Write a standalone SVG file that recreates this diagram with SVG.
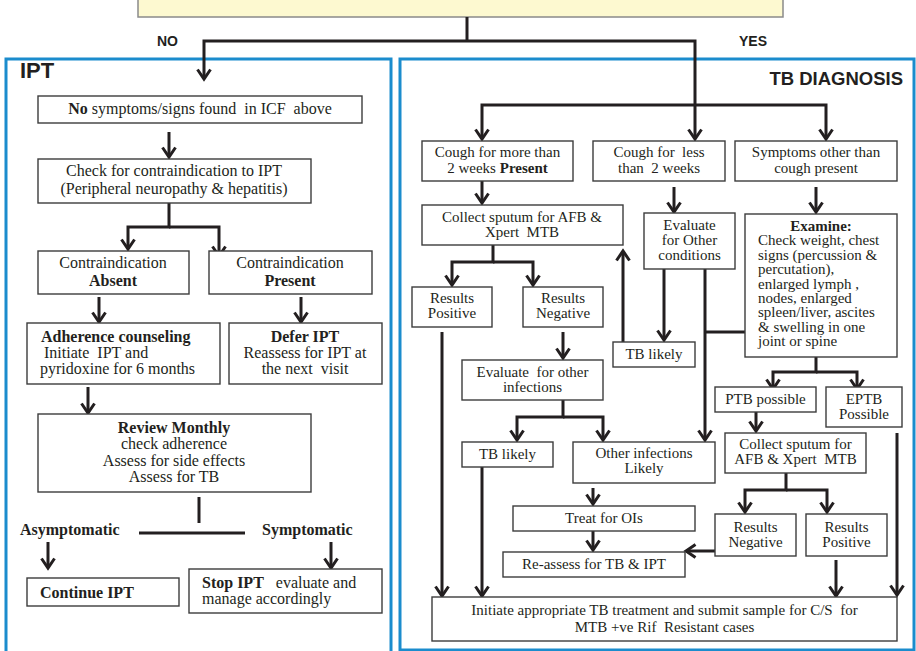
<svg xmlns="http://www.w3.org/2000/svg" width="916" height="651" viewBox="0 0 916 651">
<style>
.bg{fill:#ffffff}
.box{fill:#ffffff;stroke:#3c3c3c;stroke-width:1.4}
.panel{fill:none;stroke:#1b8ccd;stroke-width:3}
.t{font-family:"Liberation Serif","Times New Roman",serif;font-size:15px;fill:#231f20}
.tl{font-family:"Liberation Serif","Times New Roman",serif;font-size:16px;fill:#231f20}
.c{text-anchor:middle}
.b{font-weight:bold}
.h{font-family:"Liberation Sans",Arial,sans-serif;font-weight:bold;fill:#231f20}
.conn{fill:none;stroke:#231f20;stroke-width:3}
.a{marker-end:url(#arr)}
</style>
<defs>
<marker id="arr" viewBox="0 0 14 16" refX="11" refY="8" markerWidth="14" markerHeight="16" markerUnits="userSpaceOnUse" orient="auto">
<path d="M1.5,1.5 L11,8 L1.5,14.5" fill="none" stroke="#231f20" stroke-width="3" stroke-linejoin="miter"/>
</marker>
</defs>
<rect class="bg" x="0" y="0" width="916" height="651"/>

<g id="top-box"><rect x="138" y="-10" width="645" height="27" fill="#fdf9d0" stroke="#8a8a8a" stroke-width="1.5"/></g>

<g id="labels">
<text class="h" x="157" y="46" font-size="14">NO</text>
<text class="h" x="739" y="46" font-size="14">YES</text>
</g>

<g id="ipt-panel">
<rect class="panel" x="6" y="59" width="385" height="600"/>
<text class="h" x="20" y="78" font-size="22">IPT</text>
</g>
<g id="tb-panel">
<rect class="panel" x="400" y="59" width="514" height="591"/>
<text class="h" x="903" y="85" font-size="18.5" text-anchor="end">TB DIAGNOSIS</text>
</g>

<g id="connectors">
<path class="conn" d="M467,17 V41"/>
<path class="conn a" d="M467,41 H204 V79"/>
<path class="conn a" d="M467,41 H695 V139"/>
<path class="conn a" d="M695,105 H482 V139"/>
<path class="conn a" d="M695,105 H826 V139"/>
<path class="conn a" d="M169,132 V157"/>
<path class="conn a" d="M169,203 V227 H128 V249"/>
<path class="conn a" d="M169,227 H219 V256"/>
<path class="conn a" d="M99,297 V322"/>
<path class="conn a" d="M301,297 V322"/>
<path class="conn a" d="M88,387 V413"/>
<path class="conn" d="M199,497 V523"/>
<path class="conn" d="M139,533 H245"/>
<path class="conn a" d="M48,542 V568"/>
<path class="conn a" d="M331,542 V568"/>
<path class="conn a" d="M482,181 V203"/>
<path class="conn a" d="M674,187 V212"/>
<path class="conn a" d="M816,187 V212"/>
<path class="conn a" d="M493,245 V262 H452 V285"/>
<path class="conn a" d="M493,262 H533 V285"/>
<path class="conn a" d="M623,342 V251"/>
<path class="conn a" d="M664,269 V340"/>
<path class="conn a" d="M705,269 V440"/>
<path class="conn" d="M705,332 H745"/>
<path class="conn a" d="M442,332 V596"/>
<path class="conn a" d="M563,332 V358"/>
<path class="conn a" d="M563,400 V417 H517 V440"/>
<path class="conn a" d="M563,417 H603 V440"/>
<path class="conn a" d="M816,357 V372 H773 V389"/>
<path class="conn a" d="M816,372 H857 V389"/>
<path class="conn a" d="M756,412 V431"/>
<path class="conn a" d="M482,467 V596"/>
<path class="conn a" d="M593,488 V504"/>
<path class="conn a" d="M593,531 V550"/>
<path class="conn a" d="M786,473 V490 H745 V512"/>
<path class="conn a" d="M786,490 H827 V512"/>
<path class="conn a" d="M715,551 H686"/>
<path class="conn a" d="M836,560 V596"/>
<path class="conn a" d="M897,433 V595"/>
</g>

<g id="no-symptoms"><rect class="box" x="38" y="96" width="324" height="27"/>
<text class="tl c" x="200" y="114" xml:space="preserve"><tspan class="b">No</tspan> symptoms/signs found  in ICF  above</text></g>
<g id="check-contra"><rect class="box" x="38" y="159" width="273" height="44"/>
<text class="tl c" x="174" y="176">Check for contraindication to IPT</text>
<text class="tl c" x="174" y="194" font-size="14.5">(Peripheral neuropathy &amp; hepatitis)</text></g>
<g id="contra-absent"><rect class="box" x="38" y="251" width="151" height="43"/>
<text class="tl c" x="113" y="268">Contraindication</text>
<text class="tl c b" x="113" y="286">Absent</text></g>
<g id="contra-present"><rect class="box" x="209" y="251" width="163" height="43"/>
<text class="tl c" x="290" y="268">Contraindication</text>
<text class="tl c b" x="290" y="286">Present</text></g>
<g id="adherence"><rect class="box" x="27" y="323" width="193" height="61"/>
<text class="tl b" x="41" y="342">Adherence counseling</text>
<text class="tl" x="44" y="358" xml:space="preserve">Initiate  IPT and</text>
<text class="tl" x="40" y="374">pyridoxine for 6 months</text></g>
<g id="defer"><rect class="box" x="229" y="323" width="153" height="61"/>
<text class="tl c b" x="305" y="342">Defer IPT</text>
<text class="tl c" x="305" y="358">Reassess for IPT at</text>
<text class="tl c" x="305" y="374" xml:space="preserve">the next  visit</text></g>
<g id="review"><rect class="box" x="38" y="414" width="273" height="78"/>
<text class="tl c b" x="174" y="433">Review Monthly</text>
<text class="tl c" x="174" y="449">check adherence</text>
<text class="tl c" x="174" y="466">Assess for side effects</text>
<text class="tl c" x="174" y="482">Assess for TB</text></g>
<g id="asymptomatic"><text class="tl b" x="20" y="535" font-size="14.5">Asymptomatic</text></g>
<g id="symptomatic"><text class="tl b" x="262" y="535" font-size="14.5">Symptomatic</text></g>
<g id="continue-ipt"><rect class="box" x="27" y="578" width="152" height="28"/>
<text class="tl b" x="40" y="598">Continue IPT</text></g>
<g id="stop-ipt"><rect class="box" x="189" y="569" width="193" height="44"/>
<text class="tl" x="202" y="588" xml:space="preserve"><tspan class="b">Stop IPT</tspan>   evaluate and</text>
<text class="tl" x="202" y="604">manage accordingly</text></g>

<g id="cough-more"><rect class="box" x="422" y="141" width="151" height="40"/>
<text class="t c" x="497.5" y="157">Cough for more than</text>
<text class="t c" x="497.5" y="173">2 weeks <tspan class="b">Present</tspan></text></g>
<g id="cough-less"><rect class="box" x="593" y="141" width="132" height="40"/>
<text class="t c" x="659" y="157" xml:space="preserve">Cough for  less</text>
<text class="t c" x="659" y="173" xml:space="preserve">than  2 weeks</text></g>
<g id="symptoms-other"><rect class="box" x="735" y="141" width="162" height="40"/>
<text class="t c" x="816" y="157">Symptoms other than</text>
<text class="t c" x="816" y="173">cough present</text></g>
<g id="collect-sputum-1"><rect class="box" x="422" y="205" width="201" height="40"/>
<text class="t c" x="522" y="222">Collect sputum for AFB &amp;</text>
<text class="t c" x="522" y="237" xml:space="preserve">Xpert  MTB</text></g>
<g id="evaluate-other-cond"><rect class="box" x="644" y="213" width="91" height="56"/>
<text class="t c" x="689.5" y="230">Evaluate</text>
<text class="t c" x="689.5" y="245">for Other</text>
<text class="t c" x="689.5" y="260">conditions</text></g>
<g id="examine"><rect class="box" x="745" y="214" width="152" height="143"/>
<text class="t c b" x="821" y="231">Examine:</text>
<text class="t" x="758" y="245.4">Check weight, chest</text>
<text class="t" x="758" y="259.8">signs (percussion &amp;</text>
<text class="t" x="758" y="274.2">percutation),</text>
<text class="t" x="758" y="288.6">enlarged lymph ,</text>
<text class="t" x="758" y="303">nodes, enlarged</text>
<text class="t" x="758" y="317.4">spleen/liver, ascites</text>
<text class="t" x="758" y="331.8">&amp; swelling in one</text>
<text class="t" x="758" y="346.2">joint or spine</text></g>
<g id="results-positive-1"><rect class="box" x="412" y="287" width="80" height="40"/>
<text class="t c" x="452" y="303">Results</text>
<text class="t c" x="452" y="318">Positive</text></g>
<g id="results-negative-1"><rect class="box" x="523" y="287" width="80" height="40"/>
<text class="t c" x="563" y="303">Results</text>
<text class="t c" x="563" y="318">Negative</text></g>
<g id="tb-likely-1"><rect class="box" x="613" y="342" width="82" height="25"/>
<text class="t c" x="654" y="359">TB likely</text></g>
<g id="evaluate-other-inf"><rect class="box" x="462" y="360" width="141" height="40"/>
<text class="t c" x="532.5" y="377" xml:space="preserve">Evaluate  for other</text>
<text class="t c" x="532.5" y="392">infections</text></g>
<g id="ptb-possible"><rect class="box" x="715" y="387" width="101" height="25"/>
<text class="t c" x="765.5" y="404">PTB possible</text></g>
<g id="eptb-possible"><rect class="box" x="826" y="387" width="76" height="40"/>
<text class="t c" x="864" y="404">EPTB</text>
<text class="t c" x="864" y="419">Possible</text></g>
<g id="collect-sputum-2"><rect class="box" x="725" y="433" width="141" height="40"/>
<text class="t c" x="795.5" y="449">Collect sputum for</text>
<text class="t c" x="795.5" y="464" xml:space="preserve">AFB &amp; Xpert  MTB</text></g>
<g id="tb-likely-2"><rect class="box" x="462" y="442" width="91" height="25"/>
<text class="t c" x="507.5" y="459">TB likely</text></g>
<g id="other-infections"><rect class="box" x="573" y="442" width="142" height="41"/>
<text class="t c" x="644" y="458">Other infections</text>
<text class="t c" x="644" y="473">Likely</text></g>
<g id="treat-ois"><rect class="box" x="513" y="506" width="182" height="25"/>
<text class="t c" x="604" y="523">Treat for OIs</text></g>
<g id="reassess"><rect class="box" x="503" y="552" width="182" height="25"/>
<text class="t c" x="594" y="569">Re-assess for TB &amp; IPT</text></g>
<g id="results-negative-2"><rect class="box" x="715" y="514" width="81" height="42"/>
<text class="t c" x="755.5" y="532">Results</text>
<text class="t c" x="755.5" y="547">Negative</text></g>
<g id="results-positive-2"><rect class="box" x="806" y="514" width="81" height="42"/>
<text class="t c" x="846.5" y="532">Results</text>
<text class="t c" x="846.5" y="547">Positive</text></g>
<g id="initiate-treatment"><rect class="box" x="432" y="597" width="465" height="44"/>
<text class="t c" x="664.5" y="615" font-size="17" xml:space="preserve">Initiate appropriate TB treatment and submit sample for C/S  for</text>
<text class="t c" x="664.5" y="632" font-size="17" xml:space="preserve">MTB +ve Rif  Resistant cases</text></g>
</svg>
